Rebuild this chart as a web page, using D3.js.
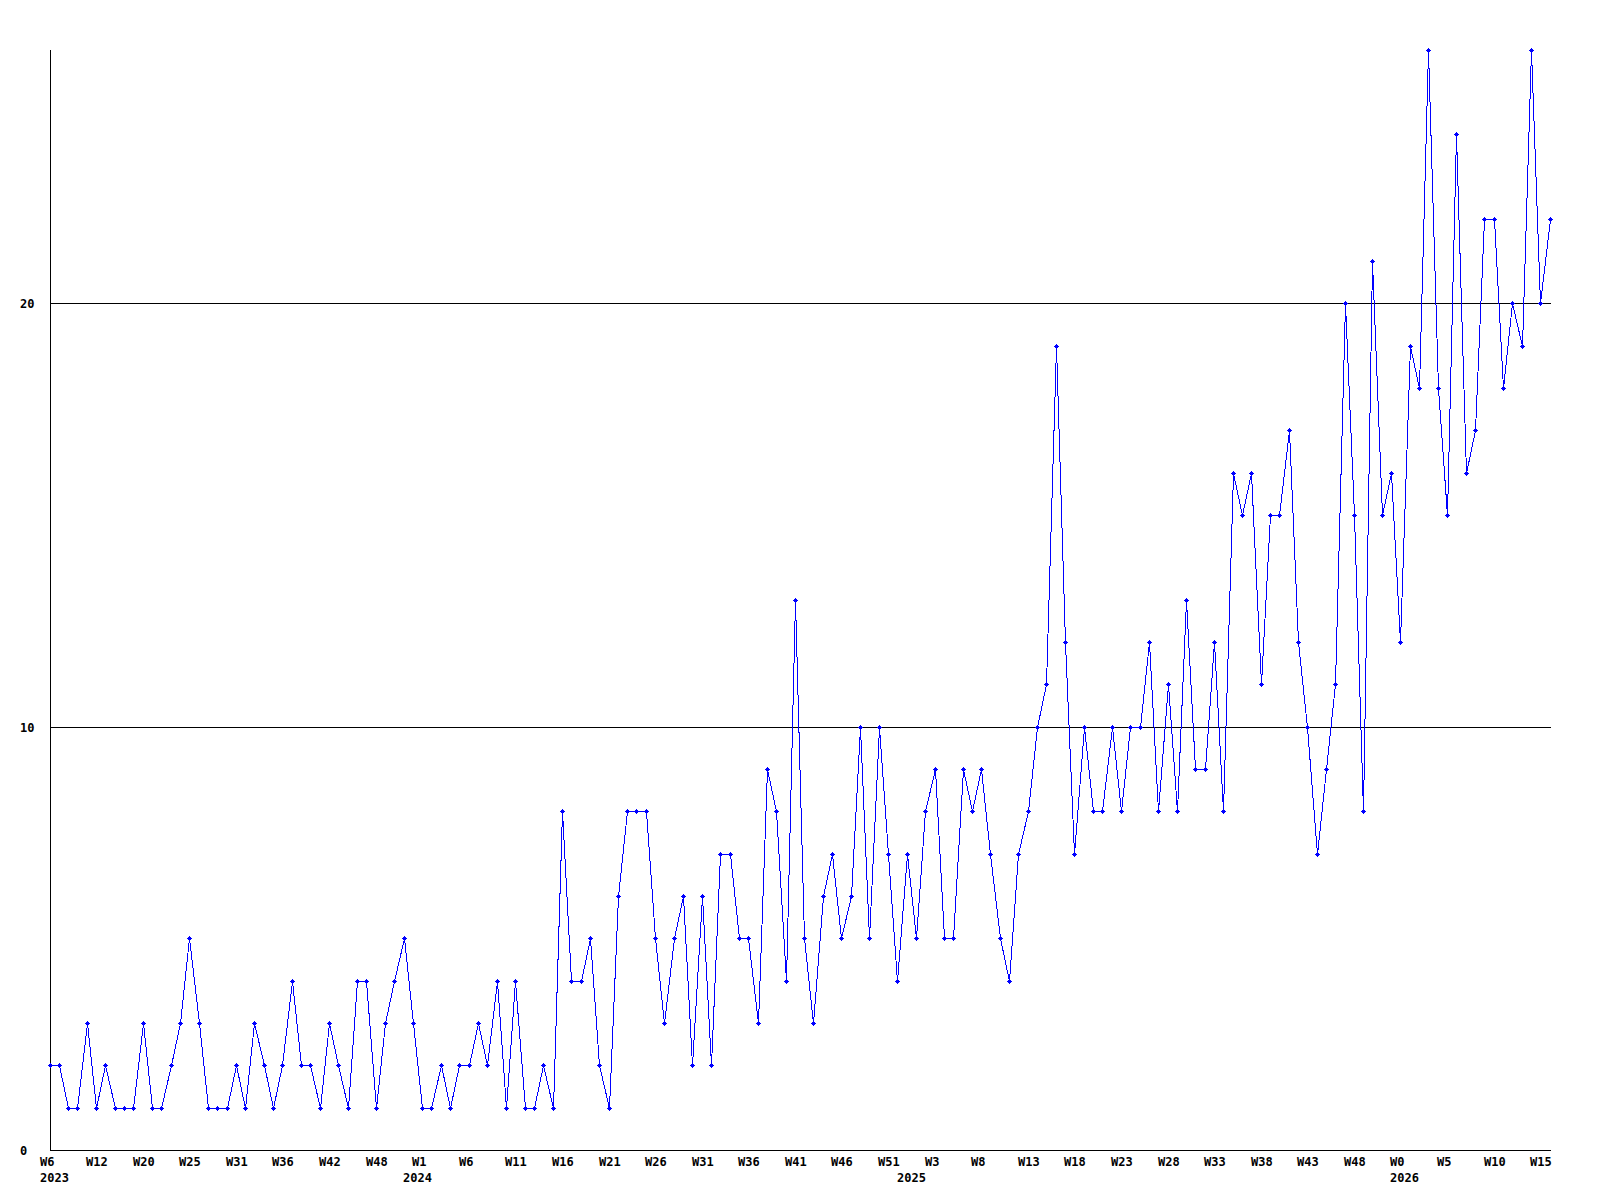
<!DOCTYPE html>
<html>
<head>
<meta charset="utf-8">
<script src="https://cdn.jsdelivr.net/npm/d3@7"></script>
<style>
  html, body { margin: 0; padding: 0; background: #ffffff; }
  svg { display: block; }
  .lbl { font-family: "DejaVu Sans Mono", "Liberation Mono", monospace; font-weight: bold; font-size: 12px; fill: #000; }
</style>
</head>
<body>
<svg id="chart" width="1600" height="1200"></svg>
<script>
// weekly values, 2023 W6 .. 2026 W16
const values = [
  2,2,1,1,3,1,2,1,1,1, 3,1,1,2,3,5,3,1,1,1, 2,1,3,2,1,2,4,2,2,1, 3,2,1,4,4,1,3,4,5,3,
  1,1,2,1,2,2,3,2,4,1, 4,1,1,2,1,8,4,4,5,2, 1,6,8,8,8,5,3,5,6,2, 6,2,7,7,5,5,3,9,8,4,
  13,5,3,6,7,5,6,10,5,10, 7,4,7,5,8,9,5,5,9,8, 9,7,5,4,7,8,10,11,19,12, 7,10,8,8,10,8,10,10,12,8,
  11,8,13,9,9,12,8,16,15,16, 11,15,15,17,12,10,7,9,11,20, 15,8,21,15,16,12,19,18,26,18,
  15,24,16,17,22,22,18,20,19,26, 20,22
];
// week tick labels, one for every 5th point
const weekTickIndex = d3.range(0, 161, 5);
const weekTickLabels = ["W6","W12","W20","W25","W31","W36","W42","W48","W1","W6","W11",
  "W16","W21","W26","W31","W36","W41","W46","W51","W3","W8","W13","W18","W23","W28",
  "W33","W38","W43","W48","W0","W5","W10","W15"];
// year labels and the point index where they appear
const yearLabels = ["2023","2024","2025","2026"];
const yearIndex = [0, 39, 92, 145];
// y axis ticks
const yTicks = [0, 10, 20];

const svg = d3.select("#chart");
const x = d3.scaleLinear().domain([0, values.length - 1]).range([50, 1550]);
const y = d3.scaleLinear().domain([0, 26]).range([1150, 49.5]);
const px = i => Math.floor(x(i)) + 0.5;
const py = v => Math.round(y(v)) + 0.5;

// gridlines + y labels via axisLeft
const yAxis = d3.axisLeft(y).tickValues(yTicks).tickSize(-1500).tickFormat(d3.format("d"));
const gy = svg.append("g").attr("transform", "translate(50.5,0)").call(yAxis);
gy.select(".domain").remove();
gy.selectAll(".tick").attr("transform", d => `translate(0,${py(d)})`);
gy.selectAll(".tick line").attr("stroke", "#000").attr("shape-rendering", "crispEdges")
  .attr("x1", 0).attr("x2", 1500);
gy.selectAll(".tick text").attr("class", "lbl").attr("text-anchor", "start")
  .attr("x", -30.5).attr("dy", null).attr("y", 4.5).attr("font-size", null).attr("font-family", null);

// vertical axis line
svg.append("line").attr("x1", 50.5).attr("x2", 50.5).attr("y1", 50).attr("y2", 1151)
  .attr("stroke", "#000").attr("shape-rendering", "crispEdges");

// x axis
const xAxis = d3.axisBottom(x).tickValues(weekTickIndex).tickSize(0)
  .tickFormat((d, k) => weekTickLabels[k]);
const gx = svg.append("g").attr("transform", "translate(0,1150.5)").call(xAxis);
gx.select(".domain").attr("d", "M50,0H1550").attr("stroke", "#000").attr("shape-rendering", "crispEdges");
gx.selectAll(".tick").attr("transform", d => `translate(${Math.floor(x(d))},0)`);
gx.selectAll(".tick text").attr("class", "lbl").attr("text-anchor", "start")
  .attr("x", -10).attr("y", 15.5).attr("dy", null).attr("font-size", null).attr("font-family", null);

// year labels
svg.append("g").selectAll("text").data(yearLabels).join("text")
  .attr("class", "lbl")
  .attr("x", (d, k) => Math.floor(x(yearIndex[k])) - 10)
  .attr("y", 1181.5)
  .text(d => d);

// data line
const line = d3.line().x((d, i) => px(i)).y(d => py(d));
svg.append("path").datum(values).attr("d", line)
  .attr("fill", "none").attr("stroke", "#0000ff").attr("stroke-width", 1)
  .attr("shape-rendering", "crispEdges");

// markers (small plus)
const mk = svg.append("g").attr("fill", "#0000ff").attr("shape-rendering", "crispEdges");
values.forEach((v, i) => {
  const cx = Math.floor(x(i)), cy = Math.round(y(v));
  mk.append("rect").attr("x", cx - 1).attr("y", cy - 1).attr("width", 3).attr("height", 3);
  mk.append("rect").attr("x", cx - 2).attr("y", cy).attr("width", 5).attr("height", 1);
  mk.append("rect").attr("x", cx).attr("y", cy - 2).attr("width", 1).attr("height", 5);
});
</script>
</body>
</html>
